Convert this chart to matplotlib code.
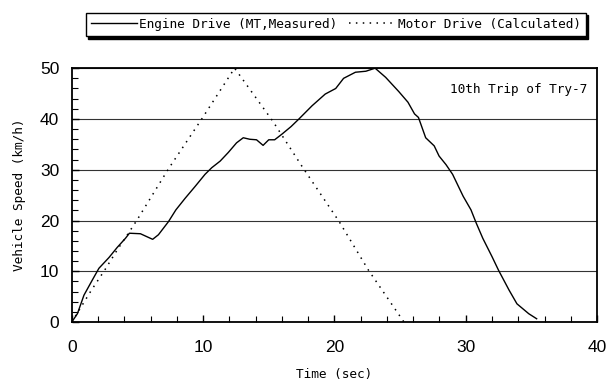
import matplotlib
matplotlib.use("Agg")
import matplotlib.pyplot as plt
from matplotlib.ticker import MultipleLocator

# engine drive (measured)
engine_t = [0, 0.43, 0.93, 1.57, 2.07, 2.83, 3.46, 4.09, 4.39, 5.23, 6.16, 6.6, 7.37,
            7.93, 8.64, 9.39, 10.15, 10.66, 11.3, 11.92, 12.55, 13.06, 13.56, 14.07,
            14.57, 15.0, 15.45, 16.0, 16.7, 17.3, 18.3, 19.3, 20.1, 20.7, 21.6, 22.4,
            23.1, 23.9, 24.9, 25.6, 26.1, 26.4, 26.95, 27.6, 27.97, 28.5, 29.0, 29.8,
            30.4, 30.8, 31.3, 32.0, 32.5, 33.3, 33.9, 34.8, 35.4]
engine_v = [0, 1.65, 5.3, 8.3, 10.6, 12.7, 14.7, 16.5, 17.5, 17.4, 16.3, 17.2, 19.8,
            22.1, 24.4, 26.7, 29.1, 30.4, 31.7, 33.4, 35.3, 36.3, 36.0, 35.9,
            34.8, 35.9, 35.9, 37.0, 38.5, 40.0, 42.6, 44.9, 46.0, 48.0, 49.2, 49.4,
            50.0, 48.2, 45.4, 43.3, 41.0, 40.3, 36.3, 34.7, 32.7, 31.0, 29.1, 24.8,
            22.1, 19.5, 16.5, 12.9, 10.2, 6.3, 3.6, 1.65, 0.66]

# motor drive (calculated)
motor_t = [0, 1.5, 2.5, 3.46, 4.34, 4.97, 7.37, 9.9, 12.4, 15.3, 17.6, 20.36, 22.6, 25.3]
motor_v = [0, 6.3, 10.2, 14.2, 17.6, 20.1, 30.2, 40.0, 50.0, 39.6, 30.4, 19.8, 10.2, 0]

mono = "DejaVu Sans Mono"
sans = "Liberation Sans"
fs = 9.2

fig = plt.figure(figsize=(6.08, 3.83), dpi=100)
ax = fig.add_axes([0.118, 0.159, 0.864, 0.663])

ax.plot(engine_t, engine_v, color="black", lw=1.0, label="Engine Drive (MT,Measured)")
ax.plot(motor_t, motor_v, color="black", lw=1.1, linestyle=(0, (1, 3.5)),
        label="Motor Drive (Calculated)")

ax.set_xlim(0, 40)
ax.set_ylim(0, 50)
ax.xaxis.set_major_locator(MultipleLocator(10))
ax.xaxis.set_minor_locator(MultipleLocator(2))
ax.yaxis.set_major_locator(MultipleLocator(10))
ax.yaxis.set_minor_locator(MultipleLocator(2))
ax.tick_params(which="both", direction="in", color="black")
ax.tick_params(which="major", length=5, width=1, labelsize=12.5)
ax.tick_params(which="minor", length=4, width=0.8)
ax.tick_params(axis="x", which="major", pad=13)
ax.tick_params(axis="y", which="major", pad=9)
for lab in ax.get_xticklabels() + ax.get_yticklabels():
    lab.set_fontfamily(sans)
ax.grid(axis="y", which="major", color="#333333", lw=0.8)
for s in ax.spines.values():
    s.set_linewidth(1.3)

ax.set_xlabel("Time (sec)", fontsize=fs, family=mono, labelpad=9)
ax.set_ylabel("Vehicle Speed (km/h)", fontsize=fs, family=mono, labelpad=10)
ax.text(0.981, 0.917, "10th Trip of Try-7", transform=ax.transAxes, ha="right",
        va="center", fontsize=fs, family=mono)

leg = fig.legend(loc="center", bbox_to_anchor=(0.552, 0.937), ncol=2,
                 bbox_transform=fig.transFigure, frameon=True, fancybox=False,
                 shadow={"color": "black", "alpha": 1.0}, edgecolor="black",
                 handlelength=3.6, handletextpad=0.2, columnspacing=0.9,
                 borderpad=0.4, borderaxespad=0,
                 prop={"family": mono, "size": fs})
leg.get_frame().set_linewidth(1.0)

fig.savefig("out.png", dpi=100)
